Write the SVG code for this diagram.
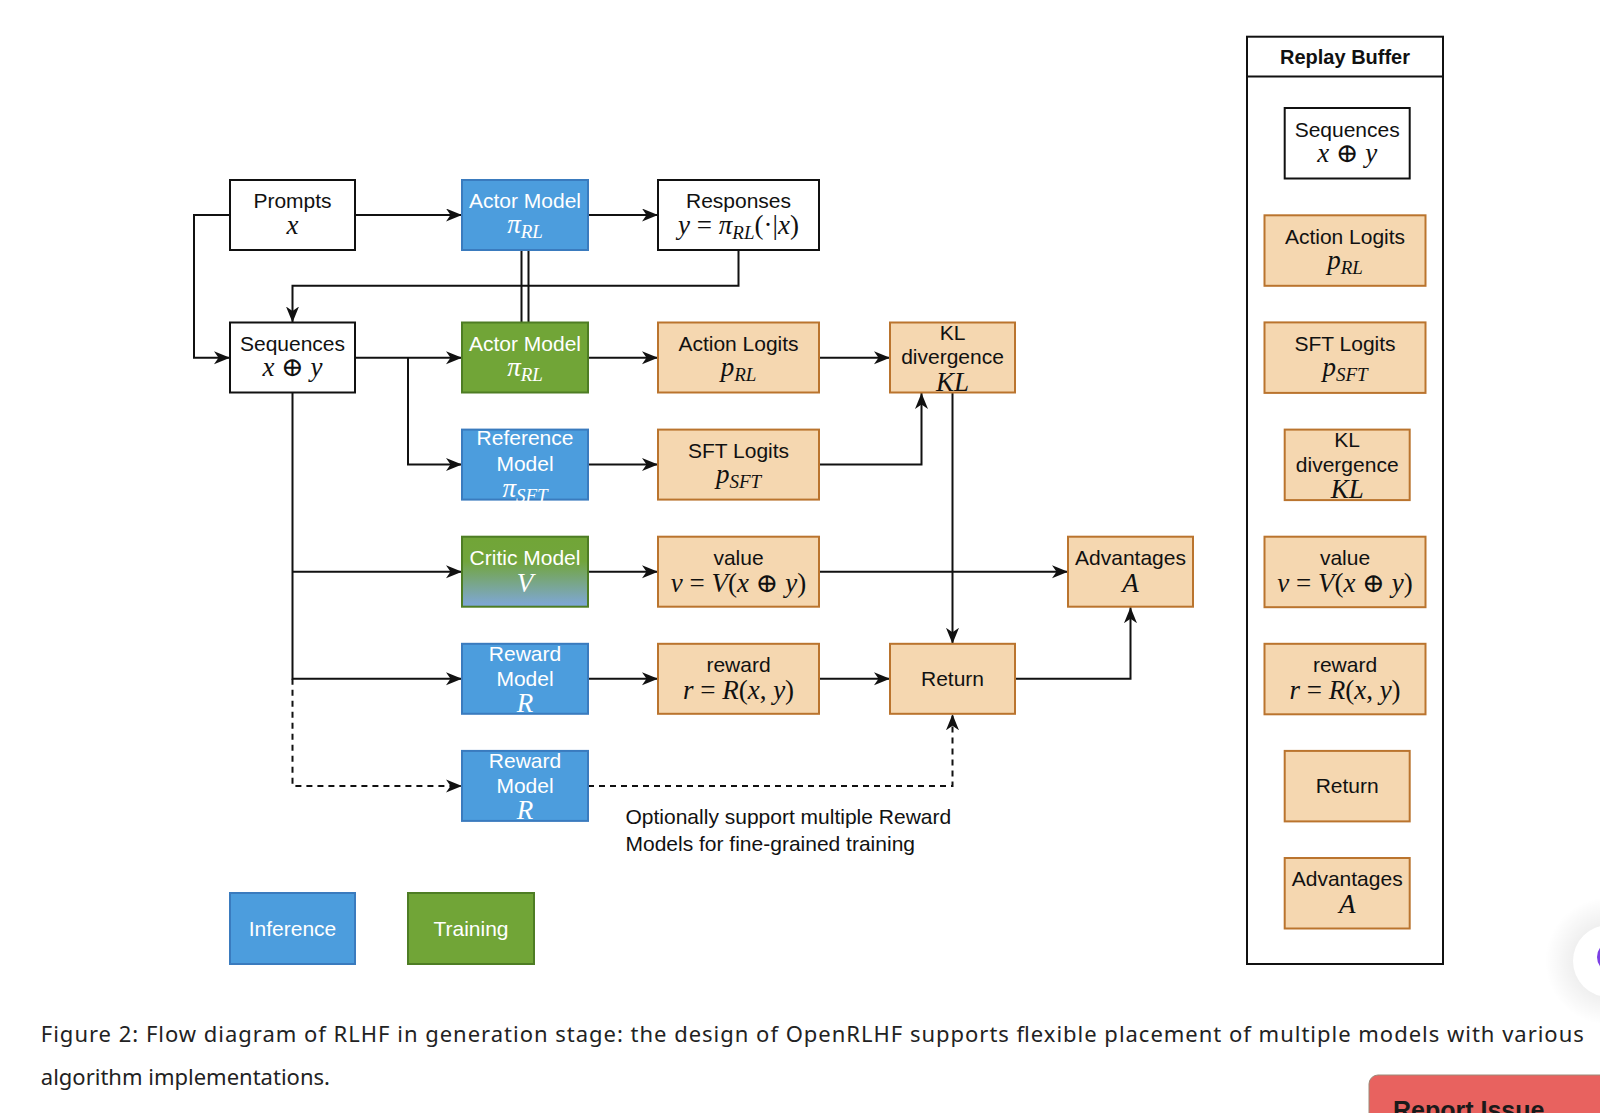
<svg xmlns="http://www.w3.org/2000/svg" width="1600" height="1113" viewBox="0 0 1600 1113">
<defs>
<style>
.s{font-family:"Liberation Sans",Arial,sans-serif;font-size:21px;text-anchor:middle;fill:#111}
.sw{fill:#fff}
.m{font-family:"Liberation Serif","DejaVu Serif",serif;font-style:italic;font-size:27px;text-anchor:middle;fill:#111}
.mw{fill:#fff}
.n{font-style:normal}
.sub{font-size:19px}
.wb{fill:#fff;stroke:#111;stroke-width:2}
.bl{fill:#4C9DDD;stroke:#3A7BBE;stroke-width:2}
.gr{fill:#71A537;stroke:#4E7D24;stroke-width:2}
.or{fill:#F5D7B0;stroke:#BA742E;stroke-width:2}
.c{fill:none;stroke:#111;stroke-width:2}
.ca{marker-end:url(#arr)}
.d{stroke-dasharray:6 5}
.cap{font-family:"Noto Sans","Open Sans",sans-serif;font-size:22px;fill:#222}
</style>
<marker id="arr" markerUnits="userSpaceOnUse" markerWidth="18" markerHeight="14" refX="16" refY="6.5" orient="auto" viewBox="0 0 18 14">
<path d="M0,0 L16,6.5 L0,13 L4.5,6.5 Z" fill="#111"/>
</marker>
<linearGradient id="critic" x1="0" y1="0" x2="0" y2="1">
<stop offset="0" stop-color="#71A537"/>
<stop offset="0.35" stop-color="#72A53C"/>
<stop offset="1" stop-color="#7FA7DB"/>
</linearGradient>
<radialGradient id="shadow">
<stop offset="0.5" stop-color="#000" stop-opacity="0.07"/>
<stop offset="1" stop-color="#000" stop-opacity="0"/>
</radialGradient>
</defs>
<rect width="1600" height="1113" fill="#fff"/>

<g id="connectors">
<path class="c ca" d="M355,215 H462"/>
<path class="c ca" d="M588,215 H658"/>
<path class="c ca" d="M230,215 H194 V357.7 H230"/>
<path class="c ca" d="M738.5,250 V285.7 H292.5 V322.5"/>
<path class="c" d="M521.5,250 V322.5 M528.5,250 V322.5"/>
<path class="c ca" d="M355,357.7 H462"/>
<path class="c ca" d="M408,357.7 V464.6 H462"/>
<path class="c ca" d="M588,357.7 H658"/>
<path class="c ca" d="M819,357.7 H890"/>
<path class="c ca" d="M588,464.6 H658"/>
<path class="c ca" d="M819,464.6 H921.5 V393"/>
<path class="c ca" d="M952.5,393 V643.8"/>
<path class="c ca" d="M292.5,393 V678.8 H462"/>
<path class="c ca" d="M292.5,571.7 H462"/>
<path class="c ca" d="M588,571.7 H658"/>
<path class="c ca" d="M819,571.7 H1068"/>
<path class="c ca" d="M588,678.8 H658"/>
<path class="c ca" d="M819,678.8 H890"/>
<path class="c ca" d="M1015,678.8 H1130.5 V607.2"/>
<path class="c ca d" d="M292.5,678.8 V785.9 H462"/>
<path class="c ca d" d="M588,785.9 H952.5 V714.3"/>
</g>

<g id="prompts">
<rect class="wb" x="230" y="180" width="125" height="70"/>
<text class="s" x="292.5" y="208">Prompts</text>
<text class="m" x="292.5" y="234">x</text>
</g>
<g id="actor-inference">
<rect class="bl" x="462" y="180" width="126" height="70"/>
<text class="s sw" x="525" y="208">Actor Model</text>
<text class="m mw" x="525" y="233">π<tspan class="sub" dy="5">RL</tspan></text>
</g>
<g id="responses">
<rect class="wb" x="658" y="180" width="161" height="70"/>
<text class="s" x="738.5" y="208">Responses</text>
<text class="m" x="738.5" y="234">y<tspan class="n"> = </tspan>π<tspan class="sub" dy="5">RL</tspan><tspan class="n" dy="-5">(·|</tspan>x<tspan class="n">)</tspan></text>
</g>
<g id="sequences">
<rect class="wb" x="230" y="322.5" width="125" height="70"/>
<text class="s" x="292.5" y="350.5">Sequences</text>
<text class="m" x="292.5" y="376">x<tspan class="n"> ⊕ </tspan>y</text>
</g>
<g id="actor-training">
<rect class="gr" x="462" y="322.5" width="126" height="70"/>
<text class="s sw" x="525" y="350.5">Actor Model</text>
<text class="m mw" x="525" y="375.5">π<tspan class="sub" dy="5">RL</tspan></text>
</g>
<g id="action-logits">
<rect class="or" x="658" y="322.5" width="161" height="70"/>
<text class="s" x="738.5" y="350.5">Action Logits</text>
<text class="m" x="738.5" y="375.5">p<tspan class="sub" dy="5">RL</tspan></text>
</g>
<g id="kl-divergence">
<rect class="or" x="890" y="322.5" width="125" height="70"/>
<text class="s" x="952.5" y="340">KL</text>
<text class="s" x="952.5" y="364">divergence</text>
<text class="m" x="952.5" y="391">KL</text>
</g>
<g id="reference-model">
<rect class="bl" x="462" y="429.6" width="126" height="70"/>
<text class="s sw" x="525" y="445">Reference</text>
<text class="s sw" x="525" y="470.5">Model</text>
<text class="m mw" x="525" y="497">π<tspan class="sub" dy="5">SFT</tspan></text>
</g>
<g id="sft-logits">
<rect class="or" x="658" y="429.6" width="161" height="70"/>
<text class="s" x="738.5" y="457.6">SFT Logits</text>
<text class="m" x="738.5" y="482.6">p<tspan class="sub" dy="5">SFT</tspan></text>
</g>
<g id="critic-model">
<rect x="462" y="536.7" width="126" height="70" fill="url(#critic)" stroke="#4E7D24" stroke-width="2"/>
<text class="s sw" x="525" y="565">Critic Model</text>
<text class="m mw" x="525" y="592">V</text>
</g>
<g id="value">
<rect class="or" x="658" y="536.7" width="161" height="70"/>
<text class="s" x="738.5" y="565">value</text>
<text class="m" x="738.5" y="592">v<tspan class="n"> = </tspan>V<tspan class="n">(</tspan>x<tspan class="n"> ⊕ </tspan>y<tspan class="n">)</tspan></text>
</g>
<g id="advantages">
<rect class="or" x="1068" y="536.7" width="125" height="70"/>
<text class="s" x="1130.5" y="565">Advantages</text>
<text class="m" x="1130.5" y="592">A</text>
</g>
<g id="reward-model">
<rect class="bl" x="462" y="643.8" width="126" height="70"/>
<text class="s sw" x="525" y="660.5">Reward</text>
<text class="s sw" x="525" y="685.5">Model</text>
<text class="m mw" x="525" y="712">R</text>
</g>
<g id="reward">
<rect class="or" x="658" y="643.8" width="161" height="70"/>
<text class="s" x="738.5" y="672">reward</text>
<text class="m" x="738.5" y="699">r<tspan class="n"> = </tspan>R<tspan class="n">(</tspan>x<tspan class="n">, </tspan>y<tspan class="n">)</tspan></text>
</g>
<g id="return">
<rect class="or" x="890" y="643.8" width="125" height="70"/>
<text class="s" x="952.5" y="686">Return</text>
</g>
<g id="reward-model-2">
<rect class="bl" x="462" y="750.9" width="126" height="70"/>
<text class="s sw" x="525" y="767.6">Reward</text>
<text class="s sw" x="525" y="792.6">Model</text>
<text class="m mw" x="525" y="819">R</text>
</g>
<g id="note">
<text class="s" style="text-anchor:start" x="625.5" y="823.5">Optionally support multiple Reward</text>
<text class="s" style="text-anchor:start" x="625.5" y="851">Models for fine-grained training</text>
</g>
<g id="legend-inference">
<rect class="bl" x="230" y="893" width="125" height="71"/>
<text class="s sw" x="292.5" y="936">Inference</text>
</g>
<g id="legend-training">
<rect class="gr" x="408" y="893" width="126" height="71"/>
<text class="s sw" x="471" y="936">Training</text>
</g>

<g id="replay-buffer">
<rect x="1247" y="36.7" width="196" height="927.3" fill="#fff" stroke="#111" stroke-width="2"/>
<line x1="1247" y1="76.5" x2="1443" y2="76.5" stroke="#111" stroke-width="2"/>
<text class="s" x="1345" y="64" style="font-weight:bold;font-size:20px">Replay Buffer</text>
</g>
<g id="rb-sequences">
<rect class="wb" x="1284.7" y="108" width="125" height="70.5"/>
<text class="s" x="1347.2" y="136.5">Sequences</text>
<text class="m" x="1347.2" y="162">x<tspan class="n"> ⊕ </tspan>y</text>
</g>
<g id="rb-action-logits">
<rect class="or" x="1264.5" y="215.3" width="161" height="70.5"/>
<text class="s" x="1345" y="243.5">Action Logits</text>
<text class="m" x="1345" y="268.5">p<tspan class="sub" dy="5">RL</tspan></text>
</g>
<g id="rb-sft-logits">
<rect class="or" x="1264.5" y="322.4" width="161" height="70.5"/>
<text class="s" x="1345" y="350.5">SFT Logits</text>
<text class="m" x="1345" y="375.5">p<tspan class="sub" dy="5">SFT</tspan></text>
</g>
<g id="rb-kl">
<rect class="or" x="1284.7" y="429.6" width="125" height="70.5"/>
<text class="s" x="1347.2" y="447">KL</text>
<text class="s" x="1347.2" y="471.5">divergence</text>
<text class="m" x="1347.2" y="498">KL</text>
</g>
<g id="rb-value">
<rect class="or" x="1264.5" y="536.7" width="161" height="70.5"/>
<text class="s" x="1345" y="565">value</text>
<text class="m" x="1345" y="592">v<tspan class="n"> = </tspan>V<tspan class="n">(</tspan>x<tspan class="n"> ⊕ </tspan>y<tspan class="n">)</tspan></text>
</g>
<g id="rb-reward">
<rect class="or" x="1264.5" y="643.8" width="161" height="70.5"/>
<text class="s" x="1345" y="672">reward</text>
<text class="m" x="1345" y="699">r<tspan class="n"> = </tspan>R<tspan class="n">(</tspan>x<tspan class="n">, </tspan>y<tspan class="n">)</tspan></text>
</g>
<g id="rb-return">
<rect class="or" x="1284.7" y="750.9" width="125" height="70.5"/>
<text class="s" x="1347.2" y="793">Return</text>
</g>
<g id="rb-advantages">
<rect class="or" x="1284.7" y="858" width="125" height="70.5"/>
<text class="s" x="1347.2" y="886">Advantages</text>
<text class="m" x="1347.2" y="913">A</text>
</g>

<g id="caption">
<text class="cap" x="40.8" y="1042" textLength="1543" lengthAdjust="spacing">Figure 2: Flow diagram of RLHF in generation stage: the design of OpenRLHF supports flexible placement of multiple models with various</text>
<text class="cap" x="40.8" y="1085">algorithm implementations.</text>
</g>

<g id="page-widgets">
<circle cx="1609" cy="961" r="64" fill="url(#shadow)"/>
<circle cx="1609" cy="961" r="36" fill="#fff"/>
<circle cx="1613" cy="957" r="16" fill="#7B3FE4"/>
<rect x="1369" y="1075" width="260" height="70" rx="9" fill="#E8625F" stroke="#9C8A78" stroke-width="1"/>
<text x="1393" y="1119" style="font-family:'Liberation Sans',Arial,sans-serif;font-size:25px;font-weight:bold;fill:#1a1a1a">Report Issue</text>
</g>
</svg>
